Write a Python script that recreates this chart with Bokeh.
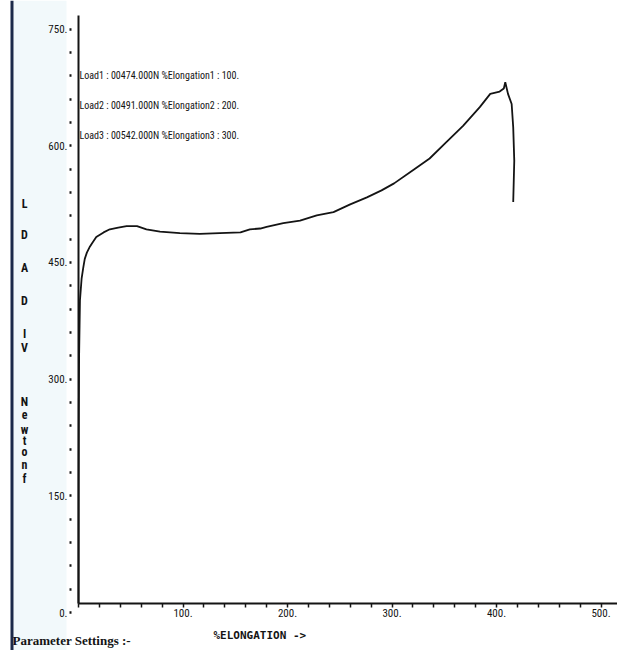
from bokeh.plotting import figure
from bokeh.models import (Label, BoxAnnotation, SingleIntervalTicker, FixedTicker,
                          PrintfTickFormatter, Range1d, LinearAxis)
from bokeh.embed import file_html
from bokeh.resources import INLINE

# ---- data (load vs %elongation) ----
elongation = [0, 0.1, 0.3, 0.6, 1.4, 3, 4.6, 6, 8, 11, 13, 17, 24, 30, 38, 46, 56, 65, 78, 97,
              116, 135, 155, 164, 174, 180, 196, 212, 228, 244, 260, 276, 290, 302, 320, 336,
              352, 368, 384, 394, 403, 407, 408.4, 411, 414.5, 416, 417, 416]
load_n = [0, 150, 250, 320, 390, 418, 432, 443, 451, 459, 463, 471, 477, 481, 483, 485, 485, 481,
          478, 476, 475, 476, 477, 481, 482, 484, 489, 492, 499, 503, 513, 522, 531, 540, 557,
          572, 593, 614, 638, 655, 658, 662, 670, 655, 642, 612, 569, 516]

info_lines = ["Load1 : 00474.000N  %Elongation1 : 100.",
              "Load2 : 00491.000N  %Elongation2 : 200.",
              "Load3 : 00542.000N  %Elongation3 : 300."]
y_letters = ["L", "D", "A", "D", "I", "V", "N", "e", "w", "t", "o", "n", "f"]
x_title = "%ELONGATION ->"
footer = "Parameter Settings :-"
x_tick_step, y_tick_step = 100, 150

INK = "#141414"
NARROW = "Roboto Condensed"

W, H = 617, 650
X0, XS = 78.0, 1.045      # pixel of x=0, px per unit
Y0, YS = 603.0, 0.7780    # pixel of y=0, px per unit
x_rng = Range1d(-X0 / XS, (W - X0) / XS)
y_rng = Range1d(-(H - Y0) / YS, Y0 / YS)
LAB_SHIFT = 11.6

p = figure(width=W, height=H, output_backend="svg", toolbar_location=None,
           x_range=x_rng, y_range=y_rng, x_axis_location=None, y_axis_location=None,
           min_border=0)
p.outline_line_color = None
p.grid.visible = False
p.background_fill_color = "white"
p.border_fill_color = "white"
p.extra_y_ranges = {"lab": Range1d(y_rng.start + LAB_SHIFT, y_rng.end + LAB_SHIFT)}

# faint tinted scan margin on the left
p.add_layout(BoxAnnotation(left=13, right=66, bottom=0, top=H, level="underlay",
                           left_units="screen", right_units="screen",
                           bottom_units="screen", top_units="screen",
                           fill_color="#f2f9fb", fill_alpha=1.0, line_color=None))

p.line(elongation, load_n, line_color=INK, line_width=1.8)

# x axis (drawn at y = 0 inside the canvas)
xa = LinearAxis(fixed_location=0, bounds=(0, x_rng.end),
                ticker=SingleIntervalTicker(interval=x_tick_step, num_minor_ticks=5),
                formatter=PrintfTickFormatter(format="%d."))
xa.major_label_overrides = {0: ""}
xa.axis_line_color = INK
xa.axis_line_width = 2
xa.major_tick_line_color = None
xa.major_tick_out = 0
xa.major_tick_in = 0
xa.minor_tick_out = 4
xa.minor_tick_in = 0
xa.minor_tick_line_width = 1.5
xa.minor_tick_line_color = INK
xa.major_label_standoff = 1
xa.major_label_text_font = NARROW
xa.major_label_text_font_size = "11px"
xa.major_label_text_color = INK
p.add_layout(xa, "below")

# y axis line
yl = LinearAxis(fixed_location=0, bounds=(0, (Y0 - 15) / YS), ticker=FixedTicker(ticks=[]))
yl.axis_line_color = INK
yl.axis_line_width = 2
yl.major_tick_line_color = None
yl.minor_tick_line_color = None
p.add_layout(yl, "left")

# y tick labels and dotted minor ticks (printed slightly below their values)
ya = LinearAxis(y_range_name="lab", fixed_location=0, bounds=(0, 750),
                ticker=SingleIntervalTicker(interval=y_tick_step, num_minor_ticks=5),
                formatter=PrintfTickFormatter(format="%d."))
ya.axis_line_color = None
ya.major_tick_line_color = None
ya.major_tick_out = 0
ya.major_tick_in = 0
ya.minor_tick_out = 9
ya.minor_tick_in = 0
ya.minor_tick_line_width = 2.5
ya.minor_tick_line_color = INK
ya.minor_tick_line_dash = "2 7"
ya.major_label_standoff = 2
ya.major_label_text_font = NARROW
ya.major_label_text_font_size = "11px"
ya.major_label_text_color = INK
p.add_layout(ya, "left")

# info lines
for i, t in enumerate(info_lines):
    p.add_layout(Label(x=79, y=H - (75 + 30 * i), x_units="screen", y_units="screen", text=t,
                       text_font=NARROW, text_font_size="10px", text_color=INK,
                       text_baseline="middle"))

# stacked y-axis title letters
letter_y = [203, 234, 267, 300, 333, 347, 401, 414, 429, 440, 451, 464, 478]
for ch, py in zip(y_letters, letter_y):
    p.add_layout(Label(x=24, y=H - py, x_units="screen", y_units="screen", text=ch,
                       text_font=NARROW, text_font_size="12px", text_font_style="bold",
                       text_color=INK, text_align="center", text_baseline="middle"))

p.add_layout(Label(x=213, y=H - 635, x_units="screen", y_units="screen", text=x_title,
                   text_font="DejaVu Sans Mono", text_font_size="11px", text_font_style="bold",
                   text_color=INK, text_baseline="middle"))
p.add_layout(Label(x=12, y=H - 640, x_units="screen", y_units="screen", text=footer,
                   text_font="Liberation Serif", text_font_size="13px", text_font_style="bold",
                   text_color=INK, text_baseline="middle"))

# dark scan edge on the left
p.add_layout(BoxAnnotation(left=10, right=13, bottom=0, top=H,
                           left_units="screen", right_units="screen",
                           bottom_units="screen", top_units="screen",
                           fill_color="#1c2a4a", fill_alpha=1.0, line_color=None))

open("out.html", "w").write(file_html(p, INLINE))
